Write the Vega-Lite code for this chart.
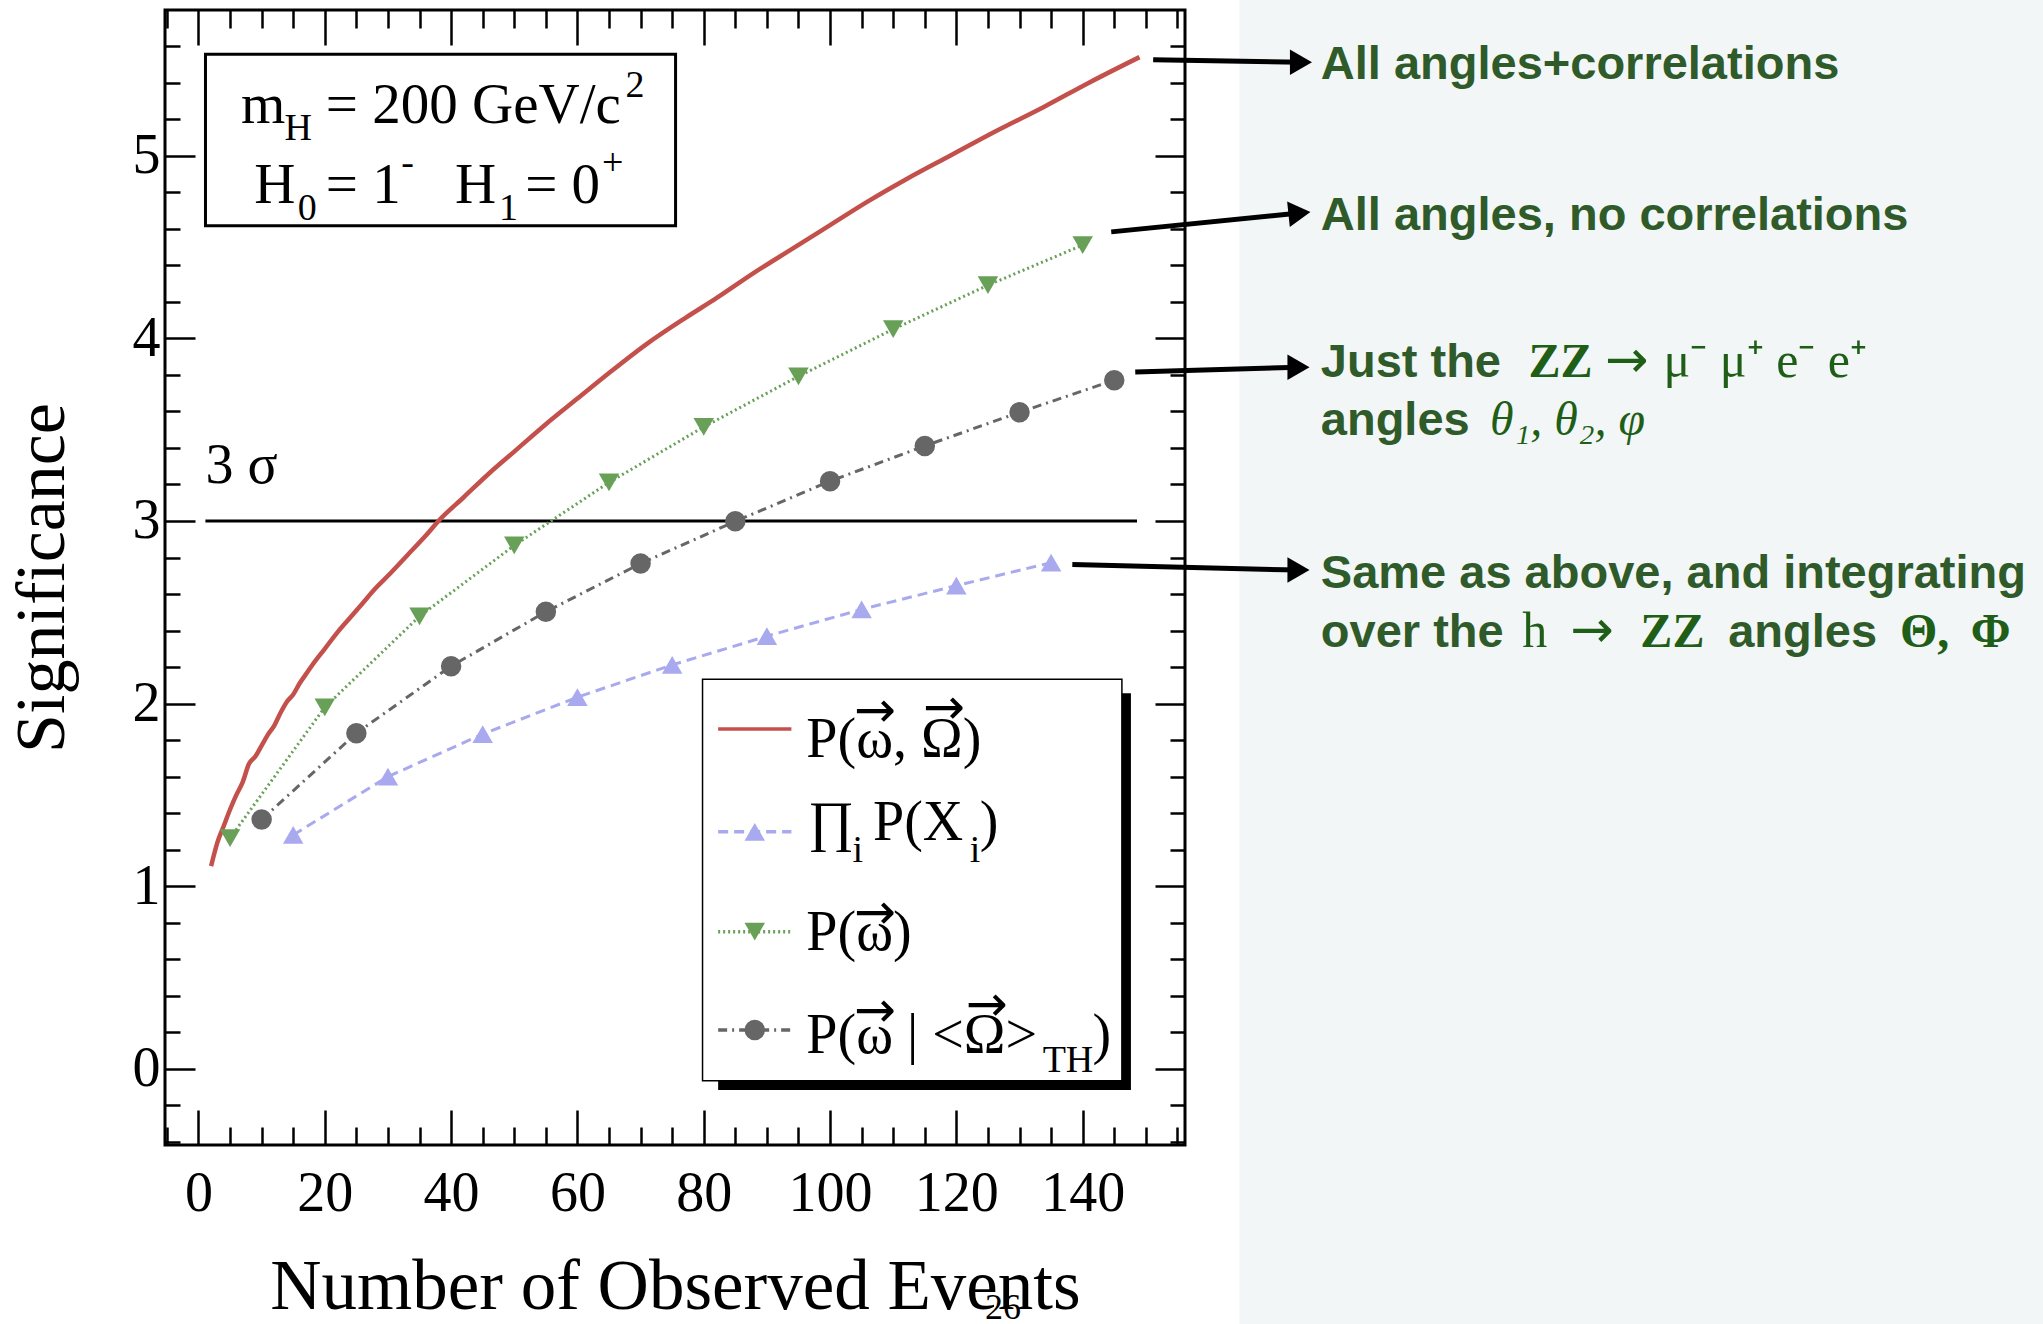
{
  "$schema": "https://vega.github.io/schema/vega-lite/v6.json",
  "width": 1020,
  "height": 1135,
  "autosize": {"type": "none"},
  "padding": {"left": 165, "top": 10, "right": 858, "bottom": 179},
  "background": "white",
  "config": {
    "view": {"stroke": "black", "strokeWidth": 3},
    "axis": {"domain": false, "grid": false, "tickColor": "black", "tickWidth": 2.5, "labelFont": "Liberation Serif", "labelFontSize": 56, "labelColor": "black", "titleFont": "Liberation Serif", "titleFontSize": 71, "titleFontWeight": "normal", "titleColor": "black", "labelFlush": false, "labelOverlap": false}
  },
  "datasets": {
    "panel": [{"x": 164.8, "x2": 330, "y": 6.3, "y2": -1.8}],
    "sigma": [{"x": 1.1, "x2": 148.6, "y": 3}],
    "full": [
      {"events": 2, "significance": 1.11}, {"events": 3, "significance": 1.24}, {"events": 4, "significance": 1.33},
      {"events": 5, "significance": 1.42}, {"events": 6, "significance": 1.5}, {"events": 7, "significance": 1.57},
      {"events": 8, "significance": 1.67}, {"events": 9, "significance": 1.71}, {"events": 10, "significance": 1.77},
      {"events": 11, "significance": 1.83}, {"events": 12, "significance": 1.88}, {"events": 13, "significance": 1.95},
      {"events": 14, "significance": 2.01}, {"events": 15, "significance": 2.05}, {"events": 16, "significance": 2.11},
      {"events": 17, "significance": 2.16}, {"events": 18, "significance": 2.21}, {"events": 20, "significance": 2.3},
      {"events": 22, "significance": 2.39}, {"events": 24, "significance": 2.47}, {"events": 26, "significance": 2.55},
      {"events": 28, "significance": 2.63}, {"events": 30, "significance": 2.7}, {"events": 33, "significance": 2.81},
      {"events": 36, "significance": 2.92}, {"events": 38, "significance": 3.0}, {"events": 42, "significance": 3.13},
      {"events": 46, "significance": 3.26}, {"events": 50, "significance": 3.38}, {"events": 55, "significance": 3.53},
      {"events": 60, "significance": 3.67}, {"events": 65, "significance": 3.81}, {"events": 71, "significance": 3.97},
      {"events": 77, "significance": 4.11}, {"events": 82, "significance": 4.22}, {"events": 88, "significance": 4.36},
      {"events": 94, "significance": 4.49}, {"events": 100, "significance": 4.62}, {"events": 106, "significance": 4.75},
      {"events": 112, "significance": 4.87}, {"events": 119, "significance": 5.0}, {"events": 126, "significance": 5.13},
      {"events": 134, "significance": 5.27}, {"events": 141, "significance": 5.4}, {"events": 149, "significance": 5.54}
    ],
    "marked": [
      {"series": "∏ P(Xi)", "events": 15, "significance": 1.281},
      {"series": "∏ P(Xi)", "events": 30, "significance": 1.6},
      {"series": "∏ P(Xi)", "events": 45, "significance": 1.833},
      {"series": "∏ P(Xi)", "events": 60, "significance": 2.035},
      {"series": "∏ P(Xi)", "events": 75, "significance": 2.212},
      {"series": "∏ P(Xi)", "events": 90, "significance": 2.369},
      {"series": "∏ P(Xi)", "events": 105, "significance": 2.516},
      {"series": "∏ P(Xi)", "events": 120, "significance": 2.646},
      {"series": "∏ P(Xi)", "events": 135, "significance": 2.772},
      {"series": "P(ω)", "events": 5, "significance": 1.264},
      {"series": "P(ω)", "events": 20, "significance": 1.98},
      {"series": "P(ω)", "events": 35, "significance": 2.478},
      {"series": "P(ω)", "events": 50, "significance": 2.866},
      {"series": "P(ω)", "events": 65, "significance": 3.211},
      {"series": "P(ω)", "events": 80, "significance": 3.515},
      {"series": "P(ω)", "events": 95, "significance": 3.792},
      {"series": "P(ω)", "events": 110, "significance": 4.05},
      {"series": "P(ω)", "events": 125, "significance": 4.291},
      {"series": "P(ω)", "events": 140, "significance": 4.511},
      {"series": "P(ω|<Ω>TH)", "events": 10, "significance": 1.365},
      {"series": "P(ω|<Ω>TH)", "events": 25, "significance": 1.838},
      {"series": "P(ω|<Ω>TH)", "events": 40, "significance": 2.205},
      {"series": "P(ω|<Ω>TH)", "events": 55, "significance": 2.503},
      {"series": "P(ω|<Ω>TH)", "events": 70, "significance": 2.767},
      {"series": "P(ω|<Ω>TH)", "events": 85, "significance": 2.998},
      {"series": "P(ω|<Ω>TH)", "events": 100, "significance": 3.218},
      {"series": "P(ω|<Ω>TH)", "events": 115, "significance": 3.411},
      {"series": "P(ω|<Ω>TH)", "events": 130, "significance": 3.595},
      {"series": "P(ω|<Ω>TH)", "events": 145, "significance": 3.771}
    ],
    "paramBox": [{"x": 1.11, "x2": 75.54, "y": 5.556, "y2": 4.617}],
    "paramMain": [
      {"x": 6.72, "y": 5.179, "text": "m"},
      {"x": 20.17, "y": 5.179, "text": "= 200 GeV/c"},
      {"x": 8.84, "y": 4.743, "text": "H"},
      {"x": 20.17, "y": 4.743, "text": "= 1"},
      {"x": 40.6, "y": 4.743, "text": "H"},
      {"x": 51.72, "y": 4.743, "text": "= 0"}
    ],
    "paramSmall": [
      {"x": 13.61, "y": 5.088, "text": "H"},
      {"x": 67.6, "y": 5.319, "text": "2"},
      {"x": 15.72, "y": 4.648, "text": "0"},
      {"x": 32.11, "y": 4.895, "text": "-"},
      {"x": 47.6, "y": 4.648, "text": "1"},
      {"x": 63.9, "y": 4.895, "text": "+"}
    ],
    "sigmaLabel": [{"x": 1.12, "y": 3.208, "text": "3 σ"}],
    "legendShadow": [{"x": 82.28, "x2": 147.64, "y": 2.056, "y2": -0.116}],
    "legendBox": [{"x": 79.81, "x2": 146.21, "y": 2.133, "y2": -0.065}],
    "keys": [
      {"series": "P(ω,Ω)", "x": 82.28, "x2": 93.88, "y": 1.861},
      {"series": "∏ P(Xi)", "x": 82.28, "x2": 93.88, "xm": 88.08, "y": 1.298},
      {"series": "P(ω)", "x": 82.28, "x2": 93.88, "xm": 88.08, "y": 0.751},
      {"series": "P(ω|<Ω>TH)", "x": 82.28, "x2": 93.88, "xm": 88.08, "y": 0.2125}
    ],
    "legendMain": [
      {"x": 96.25, "y": 1.709, "text": "P(ω, Ω)"},
      {"x": 96.51, "y": 1.253, "text": "∏"},
      {"x": 106.8, "y": 1.253, "text": "P(X"},
      {"x": 123.7, "y": 1.253, "text": ")"},
      {"x": 96.25, "y": 0.651, "text": "P(ω)"},
      {"x": 96.25, "y": 0.0865, "text": "P(ω | <Ω>"},
      {"x": 141.57, "y": 0.0865, "text": ")"}
    ],
    "legendSmall": [
      {"x": 103.57, "y": 1.13, "text": "i"},
      {"x": 122.1, "y": 1.13, "text": "i"},
      {"x": 133.66, "y": -0.016, "text": "TH"}
    ],
    "legendArrows": [
      {"x": 107.1, "y": 1.954, "text": "→"},
      {"x": 118.05, "y": 1.97, "text": "→"},
      {"x": 107.1, "y": 0.848, "text": "→"},
      {"x": 107.1, "y": 0.311, "text": "→"},
      {"x": 124.8, "y": 0.344, "text": "→"}
    ],
    "arrows": [
      {"id": 1, "x": 151.16, "y": 5.525, "x2": 174.56, "y2": 5.512},
      {"id": 2, "x": 144.52, "y": 4.583, "x2": 174.32, "y2": 4.686},
      {"id": 3, "x": 148.32, "y": 3.816, "x2": 174.17, "y2": 3.842},
      {"id": 4, "x": 138.36, "y": 2.762, "x2": 174.17, "y2": 2.731}
    ],
    "notesSans": [
      {"x": 177.7, "y": 5.421, "text": "All angles+correlations"},
      {"x": 177.7, "y": 4.594, "text": "All angles, no correlations"},
      {"x": 177.7, "y": 3.79, "text": "Just the"},
      {"x": 177.7, "y": 3.471, "text": "angles"},
      {"x": 177.7, "y": 2.633, "text": "Same as above, and integrating"},
      {"x": 177.7, "y": 2.312, "text": "over the"},
      {"x": 242.2, "y": 2.312, "text": "angles"}
    ],
    "notesMath": [
      {"x": 231.97, "y": 3.79, "text": "μ⁻  μ⁺  e⁻  e⁺"},
      {"x": 209.6, "y": 2.312, "text": "h"}
    ],
    "notesItalic": [
      {"x": 204.5, "y": 3.471, "text": "θ₁, θ₂, φ"}
    ],
    "notesBold": [
      {"x": 210.6, "y": 3.79, "text": "ZZ"},
      {"x": 228.3, "y": 2.312, "text": "ZZ"},
      {"x": 269.4, "y": 2.312, "text": "Θ,"},
      {"x": 280.6, "y": 2.312, "text": "Φ"}
    ],
    "mathArrows": [
      {"x": 222.7, "y": 3.79, "text": "→"},
      {"x": 217.2, "y": 2.312, "text": "→"}
    ],
    "pageNumber": [{"x": 127.4, "y": -1.37, "text": "26"}]
  },
  "resolve": {"axis": {"x": "independent", "y": "independent"}},
  "layer": [
    {
      "data": {"name": "panel"},
      "mark": {"type": "rect", "color": "#f3f6f7"},
      "encoding": {
        "x": {"field": "x", "type": "quantitative", "scale": {"domain": [-5.3, 156.2], "nice": false, "zero": false}, "axis": null},
        "x2": {"field": "x2"},
        "y": {"field": "y", "type": "quantitative", "scale": {"domain": [-0.417, 5.798], "nice": false, "zero": false}, "axis": null},
        "y2": {"field": "y2"}
      }
    },
    {
      "data": {"name": "sigma"},
      "mark": {"type": "rule", "color": "black", "strokeWidth": 3},
      "encoding": {
        "x": {"field": "x", "type": "quantitative", "scale": {"domain": [-5.3, 156.2], "nice": false, "zero": false},
              "axis": {"orient": "top", "values": [0, 20, 40, 60, 80, 100, 120, 140], "tickSize": 35, "offset": -35, "labels": false, "title": null}},
        "x2": {"field": "x2"},
        "y": {"field": "y", "type": "quantitative", "scale": {"domain": [-0.417, 5.798], "nice": false, "zero": false},
              "axis": {"orient": "right", "values": [0, 1, 2, 3, 4, 5], "tickSize": 30, "offset": -30, "labels": false, "title": null}}
      }
    },
    {
      "data": {"name": "full"},
      "mark": {"type": "line", "color": "#c4504c", "strokeWidth": 4.5, "interpolate": "monotone"},
      "encoding": {
        "x": {"field": "events", "type": "quantitative", "scale": {"domain": [-5.3, 156.2], "nice": false, "zero": false},
              "axis": {"orient": "bottom", "values": [0, 20, 40, 60, 80, 100, 120, 140], "tickSize": 35, "offset": -35, "labelPadding": 21, "title": "Number of Observed Events", "titlePadding": 31}},
        "y": {"field": "significance", "type": "quantitative", "scale": {"domain": [-0.417, 5.798], "nice": false, "zero": false},
              "axis": {"orient": "left", "values": [0, 1, 2, 3, 4, 5], "tickSize": 30, "offset": -30, "labelPadding": 5, "title": "Significance", "titleFontSize": 70, "titlePadding": 54}}
      }
    },
    {
      "data": {"name": "marked"},
      "mark": {"type": "line", "strokeWidth": 3},
      "encoding": {
        "x": {"field": "events", "type": "quantitative", "scale": {"domain": [-5.3, 156.2], "nice": false, "zero": false},
              "axis": {"orient": "bottom", "values": [-5, 5, 10, 15, 25, 30, 35, 45, 50, 55, 65, 70, 75, 85, 90, 95, 105, 110, 115, 125, 130, 135, 145, 150, 155], "tickSize": 18, "offset": -18, "labels": false, "title": null}},
        "y": {"field": "significance", "type": "quantitative", "scale": {"domain": [-0.417, 5.798], "nice": false, "zero": false},
              "axis": {"orient": "left", "values": [-0.4, -0.2, 0.2, 0.4, 0.6, 0.8, 1.2, 1.4, 1.6, 1.8, 2.2, 2.4, 2.6, 2.8, 3.2, 3.4, 3.6, 3.8, 4.2, 4.4, 4.6, 4.8, 5.2, 5.4, 5.6], "tickSize": 15, "offset": -15, "labels": false, "title": null}},
        "color": {"field": "series", "type": "nominal", "legend": null,
                  "scale": {"domain": ["P(ω,Ω)", "∏ P(Xi)", "P(ω)", "P(ω|<Ω>TH)"], "range": ["#c4504c", "#a9a9ef", "#68a058", "#666666"]}},
        "strokeDash": {"field": "series", "type": "nominal", "legend": null,
                  "scale": {"domain": ["P(ω,Ω)", "∏ P(Xi)", "P(ω)", "P(ω|<Ω>TH)"], "range": [[1, 0], [10, 6], [2, 3], [9, 5, 2, 5]]}}
      }
    },
    {
      "data": {"name": "marked"},
      "mark": {"type": "point", "filled": true, "size": 420, "opacity": 1},
      "encoding": {
        "x": {"field": "events", "type": "quantitative", "scale": {"domain": [-5.3, 156.2], "nice": false, "zero": false},
              "axis": {"orient": "top", "values": [-5, 5, 10, 15, 25, 30, 35, 45, 50, 55, 65, 70, 75, 85, 90, 95, 105, 110, 115, 125, 130, 135, 145, 150, 155], "tickSize": 18, "offset": -18, "labels": false, "title": null}},
        "y": {"field": "significance", "type": "quantitative", "scale": {"domain": [-0.417, 5.798], "nice": false, "zero": false},
              "axis": {"orient": "right", "values": [-0.4, -0.2, 0.2, 0.4, 0.6, 0.8, 1.2, 1.4, 1.6, 1.8, 2.2, 2.4, 2.6, 2.8, 3.2, 3.4, 3.6, 3.8, 4.2, 4.4, 4.6, 4.8, 5.2, 5.4, 5.6], "tickSize": 15, "offset": -15, "labels": false, "title": null}},
        "color": {"field": "series", "type": "nominal", "legend": null,
                  "scale": {"domain": ["P(ω,Ω)", "∏ P(Xi)", "P(ω)", "P(ω|<Ω>TH)"], "range": ["#c4504c", "#a9a9ef", "#68a058", "#666666"]}},
        "shape": {"field": "series", "type": "nominal", "legend": null,
                  "scale": {"domain": ["P(ω,Ω)", "∏ P(Xi)", "P(ω)", "P(ω|<Ω>TH)"], "range": ["square", "triangle-up", "triangle-down", "circle"]}}
      }
    },
    {
      "data": {"name": "paramBox"},
      "mark": {"type": "rect", "fill": "white", "stroke": "black", "strokeWidth": 3},
      "encoding": {
        "x": {"field": "x", "type": "quantitative", "axis": null},
        "x2": {"field": "x2"},
        "y": {"field": "y", "type": "quantitative", "axis": null},
        "y2": {"field": "y2"}
      }
    },
    {
      "data": {"name": "paramMain"},
      "mark": {"type": "text", "font": "Liberation Serif", "fontSize": 57, "align": "left", "baseline": "alphabetic", "color": "black"},
      "encoding": {
        "x": {"field": "x", "type": "quantitative", "axis": null},
        "y": {"field": "y", "type": "quantitative", "axis": null},
        "text": {"field": "text"}
      }
    },
    {
      "data": {"name": "paramSmall"},
      "mark": {"type": "text", "font": "Liberation Serif", "fontSize": 38, "align": "left", "baseline": "alphabetic", "color": "black"},
      "encoding": {
        "x": {"field": "x", "type": "quantitative", "axis": null},
        "y": {"field": "y", "type": "quantitative", "axis": null},
        "text": {"field": "text"}
      }
    },
    {
      "data": {"name": "sigmaLabel"},
      "mark": {"type": "text", "font": "Liberation Serif", "fontSize": 56, "align": "left", "baseline": "alphabetic", "color": "black"},
      "encoding": {
        "x": {"field": "x", "type": "quantitative", "axis": null},
        "y": {"field": "y", "type": "quantitative", "axis": null},
        "text": {"field": "text"}
      }
    },
    {
      "data": {"name": "legendShadow"},
      "mark": {"type": "rect", "fill": "black"},
      "encoding": {
        "x": {"field": "x", "type": "quantitative", "axis": null},
        "x2": {"field": "x2"},
        "y": {"field": "y", "type": "quantitative", "axis": null},
        "y2": {"field": "y2"}
      }
    },
    {
      "data": {"name": "legendBox"},
      "mark": {"type": "rect", "fill": "white", "stroke": "black", "strokeWidth": 1.5},
      "encoding": {
        "x": {"field": "x", "type": "quantitative", "axis": null},
        "x2": {"field": "x2"},
        "y": {"field": "y", "type": "quantitative", "axis": null},
        "y2": {"field": "y2"}
      }
    },
    {
      "data": {"name": "keys"},
      "mark": {"type": "rule", "strokeWidth": 3.5},
      "encoding": {
        "x": {"field": "x", "type": "quantitative", "axis": null},
        "x2": {"field": "x2"},
        "y": {"field": "y", "type": "quantitative", "axis": null},
        "color": {"field": "series", "type": "nominal", "legend": null,
                  "scale": {"domain": ["P(ω,Ω)", "∏ P(Xi)", "P(ω)", "P(ω|<Ω>TH)"], "range": ["#c4504c", "#a9a9ef", "#68a058", "#666666"]}},
        "strokeDash": {"field": "series", "type": "nominal", "legend": null,
                  "scale": {"domain": ["P(ω,Ω)", "∏ P(Xi)", "P(ω)", "P(ω|<Ω>TH)"], "range": [[1, 0], [10, 6], [2, 3], [9, 5, 2, 5]]}}
      }
    },
    {
      "data": {"name": "keys"},
      "mark": {"type": "point", "filled": true, "size": 420, "opacity": 1},
      "encoding": {
        "x": {"field": "xm", "type": "quantitative", "axis": null},
        "y": {"field": "y", "type": "quantitative", "axis": null},
        "color": {"field": "series", "type": "nominal", "legend": null,
                  "scale": {"domain": ["P(ω,Ω)", "∏ P(Xi)", "P(ω)", "P(ω|<Ω>TH)"], "range": ["#c4504c", "#a9a9ef", "#68a058", "#666666"]}},
        "shape": {"field": "series", "type": "nominal", "legend": null,
                  "scale": {"domain": ["P(ω,Ω)", "∏ P(Xi)", "P(ω)", "P(ω|<Ω>TH)"], "range": ["square", "triangle-up", "triangle-down", "circle"]}}
      }
    },
    {
      "data": {"name": "legendMain"},
      "mark": {"type": "text", "font": "Liberation Serif", "fontSize": 56, "align": "left", "baseline": "alphabetic", "color": "black"},
      "encoding": {
        "x": {"field": "x", "type": "quantitative", "axis": null},
        "y": {"field": "y", "type": "quantitative", "axis": null},
        "text": {"field": "text"}
      }
    },
    {
      "data": {"name": "legendSmall"},
      "mark": {"type": "text", "font": "Liberation Serif", "fontSize": 38, "align": "left", "baseline": "alphabetic", "color": "black"},
      "encoding": {
        "x": {"field": "x", "type": "quantitative", "axis": null},
        "y": {"field": "y", "type": "quantitative", "axis": null},
        "text": {"field": "text"}
      }
    },
    {
      "data": {"name": "legendArrows"},
      "mark": {"type": "text", "font": "DejaVu Sans", "fontSize": 50, "align": "center", "baseline": "middle", "color": "black"},
      "encoding": {
        "x": {"field": "x", "type": "quantitative", "axis": null},
        "y": {"field": "y", "type": "quantitative", "axis": null},
        "text": {"field": "text"}
      }
    },
    {
      "data": {"name": "arrows"},
      "mark": {"type": "rule", "color": "black", "strokeWidth": 5},
      "encoding": {
        "x": {"field": "x", "type": "quantitative", "axis": null},
        "y": {"field": "y", "type": "quantitative", "axis": null},
        "x2": {"field": "x2"},
        "y2": {"field": "y2"}
      }
    },
    {
      "data": {"name": "arrows"},
      "transform": [{"filter": "datum.id != 2"}],
      "mark": {"type": "point", "shape": "triangle-right", "filled": true, "color": "black", "size": 650, "opacity": 1},
      "encoding": {
        "x": {"field": "x2", "type": "quantitative", "axis": null},
        "y": {"field": "y2", "type": "quantitative", "axis": null}
      }
    },
    {
      "data": {"name": "arrows"},
      "transform": [{"filter": "datum.id == 2"}],
      "mark": {"type": "point", "shape": "triangle-right", "filled": true, "color": "black", "size": 650, "opacity": 1, "angle": -6},
      "encoding": {
        "x": {"field": "x2", "type": "quantitative", "axis": null},
        "y": {"field": "y2", "type": "quantitative", "axis": null}
      }
    },
    {
      "data": {"name": "notesSans"},
      "mark": {"type": "text", "font": "Liberation Sans", "fontWeight": "bold", "fontSize": 47, "align": "left", "baseline": "alphabetic", "color": "#2f5b2a"},
      "encoding": {
        "x": {"field": "x", "type": "quantitative", "axis": null},
        "y": {"field": "y", "type": "quantitative", "axis": null},
        "text": {"field": "text"}
      }
    },
    {
      "data": {"name": "notesMath"},
      "mark": {"type": "text", "font": "Liberation Serif", "fontSize": 50, "align": "left", "baseline": "alphabetic", "color": "#1f5e17"},
      "encoding": {
        "x": {"field": "x", "type": "quantitative", "axis": null},
        "y": {"field": "y", "type": "quantitative", "axis": null},
        "text": {"field": "text"}
      }
    },
    {
      "data": {"name": "notesItalic"},
      "mark": {"type": "text", "font": "Liberation Serif", "fontStyle": "italic", "fontSize": 48, "align": "left", "baseline": "alphabetic", "color": "#1f5e17"},
      "encoding": {
        "x": {"field": "x", "type": "quantitative", "axis": null},
        "y": {"field": "y", "type": "quantitative", "axis": null},
        "text": {"field": "text"}
      }
    },
    {
      "data": {"name": "notesBold"},
      "mark": {"type": "text", "font": "Liberation Serif", "fontWeight": "bold", "fontSize": 48, "align": "left", "baseline": "alphabetic", "color": "#1f5e17"},
      "encoding": {
        "x": {"field": "x", "type": "quantitative", "axis": null},
        "y": {"field": "y", "type": "quantitative", "axis": null},
        "text": {"field": "text"}
      }
    },
    {
      "data": {"name": "mathArrows"},
      "mark": {"type": "text", "font": "DejaVu Sans", "fontSize": 52, "align": "left", "baseline": "alphabetic", "color": "#1f5e17"},
      "encoding": {
        "x": {"field": "x", "type": "quantitative", "axis": null},
        "y": {"field": "y", "type": "quantitative", "axis": null},
        "text": {"field": "text"}
      }
    },
    {
      "data": {"name": "pageNumber"},
      "mark": {"type": "text", "font": "Liberation Serif", "fontSize": 36, "align": "center", "baseline": "alphabetic", "color": "black"},
      "encoding": {
        "x": {"field": "x", "type": "quantitative", "axis": null},
        "y": {"field": "y", "type": "quantitative", "axis": null},
        "text": {"field": "text"}
      }
    }
  ]
}
